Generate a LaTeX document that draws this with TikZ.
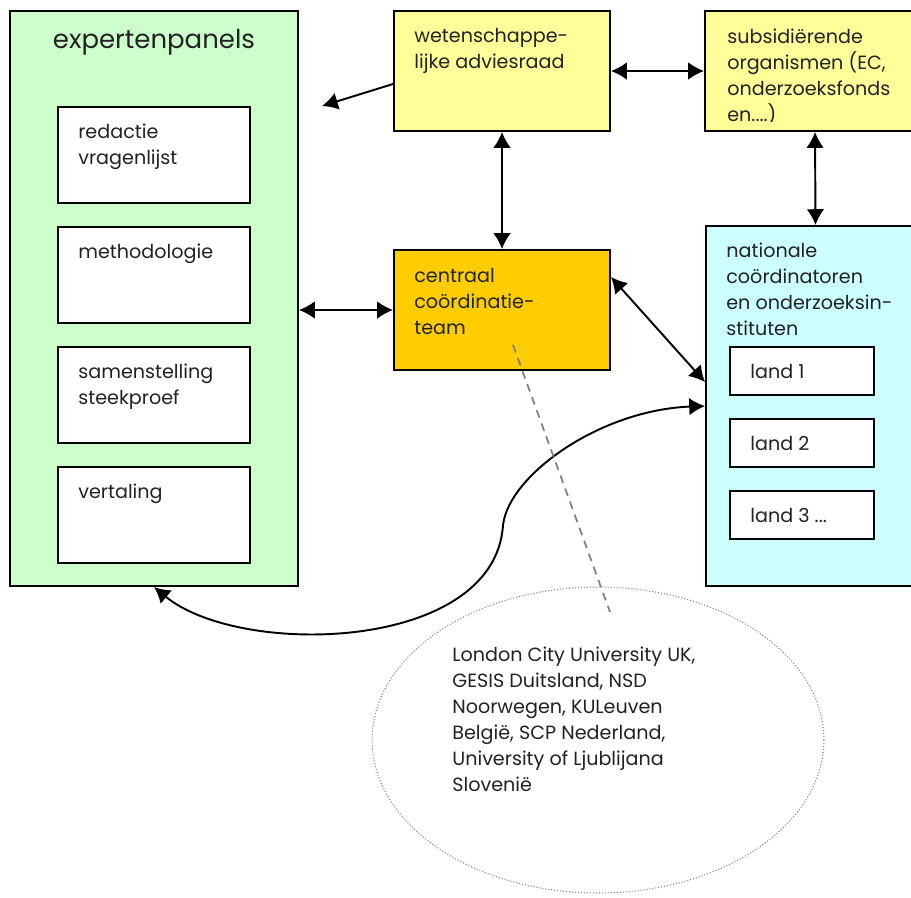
\documentclass[tikz,border=0pt]{standalone}
\usepackage{fontspec}
\setmainfont{Poppins}
\usepackage{tikz}
\usetikzlibrary{calc, fit, shapes.geometric, arrows.meta}
\definecolor{panelgreen}{HTML}{CCFFCC}
\definecolor{boardyellow}{HTML}{FFFF99}
\definecolor{teamorange}{HTML}{FFCC00}
\definecolor{natcyan}{HTML}{CCFFFF}
\definecolor{inkgray}{HTML}{222222}
\tikzstyle{box}    = [draw, line width=1.1pt, rectangle, inner sep=0pt]
\tikzstyle{txt}    = [anchor=north west, align=left, inner sep=0pt, text=inkgray, font={\fontsize{10.9}{14.7}\selectfont}]
\tikzstyle{arrow}  = [line width=1.1pt, {Latex[length=9pt,width=10pt]}-{Latex[length=9pt,width=10pt]}]
\tikzstyle{arrowone} = [line width=1.1pt, -{Latex[length=9pt,width=10pt]}]
\tikzstyle{note}   = [gray, line width=1pt, dash pattern=on 4.5pt off 3.4pt]

\begin{document}
\begin{tikzpicture}[x=0.02cm, y=-0.02cm]
  \useasboundingbox (0,0) rectangle (911,897);
  \clip (0,0) rectangle (911,897);

  %expert panels on the left
  \node[box, fill=panelgreen, fit={(10,11) (298,586)}] (ep) {};
  \node[anchor=north, inner sep=0pt, text=inkgray, font={\fontsize{14.8}{16}\selectfont}] (ep-t) at (154,29) {expertenpanels};
  \foreach \y/\lbl [count=\i] in {107/{redactie\\vragenlijst}, 227/methodologie, 347/{samenstelling\\steekproef}, 467/vertaling}{
    \node[box, fill=white, fit={(58,\y) (250,\y+96)}] (p\i) {};
    \node[txt] (p\i-t) at (78,\y+17) {\lbl};
  }

  %advisory board and funders
  \node[box, fill=boardyellow, fit={(394,11) (610,131)}] (wa) {};
  \node[txt] (wa-t) at (414,28) {wetenschappe-\\lijke adviesraad};
  \node[box, fill=boardyellow, fit={(705,11) (925,131)}] (so) {};
  \begin{scope}
    \clip (705,11) rectangle (925,121);
    \node[txt] (so-t) at (727,29) {subsidiërende\\organismen (EC,\\onderzoeksfonds\\en....)};
  \end{scope}

  %central team
  \node[box, fill=teamorange, fit={(394,250) (610,370)}] (ct) {};
  \node[txt] (ct-t) at (414,268) {centraal\\coördinatie-\\team};

  %national coordinators
  \node[box, fill=natcyan, fit={(706,226) (925,586)}] (nc) {};
  \node[txt] (nc-t) at (726,243) {nationale\\coördinatoren\\en onderzoeksin-\\stituten};
  \foreach \y/\lbl [count=\i] in {347/land 1, 419/land 2, 491/{land 3 ...}}{
    \node[box, fill=white, fit={(730,\y) (874,\y+48)}] (l\i) {};
    \node[txt] (l\i-t) at (750,\y+17) {\lbl};
  }

  %partners
  \node[ellipse, draw=gray, line width=0.6pt, dash pattern=on 0.6pt off 1.1pt, minimum width=9.04cm, minimum height=6.12cm, inner sep=0pt] (pa) at (598,740) {};
  \node[txt] (pa-t) at (452,647) {London City University UK,\\GESIS Duitsland, NSD\\Noorwegen, KULeuven\\België, SCP Nederland,\\University of Ljublijana\\Slovenië};

  %connectors
  \coordinate (wa-end) at (322,106);
  \draw[arrowone] ([yshift=-0.26cm]wa.west) -- (wa-end);
  \draw[arrow] (wa.east) -- (so.west);
  \draw[arrow] (wa.south) -- (ct.north);
  \draw[arrow] (so.south) -- (nc.north);
  \draw[arrow] (ep.east |- ct.west) -- (ct.west);
  \draw[arrow] ([yshift=0.66cm]ct.east) -- ([yshift=0.48cm]nc.west);
  \draw[arrow] (ep.south) .. controls (240,658) and (495,652) .. (503,525) .. controls (509,475) and (600,410) .. (nc.west);

  %note to the partners
  \coordinate (ct-note) at (513,345);
  \coordinate (pa-note) at (610,612);
  \draw[note] (ct-note) -- (pa-note);
\end{tikzpicture}
\end{document}
